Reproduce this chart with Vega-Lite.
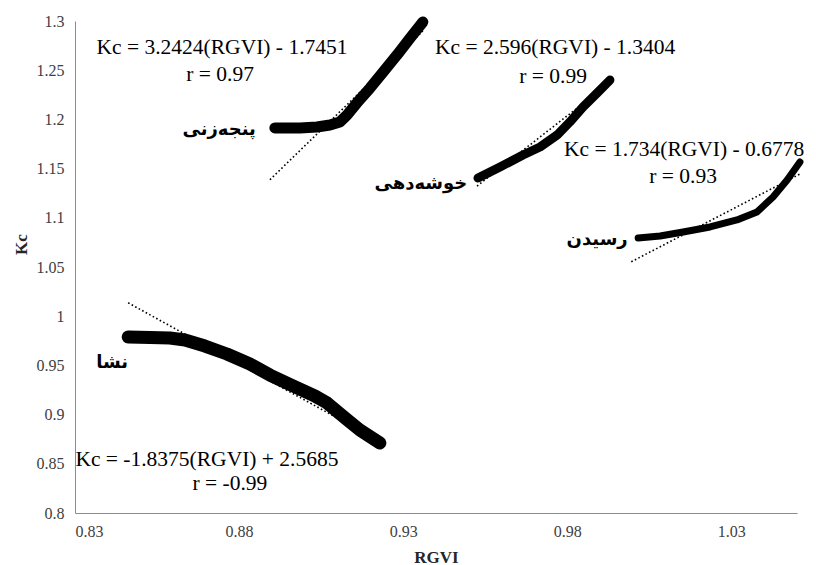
{
  "$schema": "https://vega.github.io/schema/vega-lite/v6.json",
  "width": 722,
  "height": 492,
  "autosize": {"type": "none"},
  "padding": {"left": 75, "top": 21, "right": 19, "bottom": 52},
  "background": "white",
  "config": {"view": {"stroke": null}},
  "datasets": {
    "curves": [
      {"stage": "nasha", "RGVI": 0.8462, "Kc": 0.9789},
      {"stage": "nasha", "RGVI": 0.8529, "Kc": 0.9784},
      {"stage": "nasha", "RGVI": 0.8589, "Kc": 0.9778},
      {"stage": "nasha", "RGVI": 0.8635, "Kc": 0.9758},
      {"stage": "nasha", "RGVI": 0.8696, "Kc": 0.9697},
      {"stage": "nasha", "RGVI": 0.8763, "Kc": 0.9616},
      {"stage": "nasha", "RGVI": 0.8833, "Kc": 0.9514},
      {"stage": "nasha", "RGVI": 0.8894, "Kc": 0.9402},
      {"stage": "nasha", "RGVI": 0.8964, "Kc": 0.9291},
      {"stage": "nasha", "RGVI": 0.9031, "Kc": 0.9189},
      {"stage": "nasha", "RGVI": 0.9068, "Kc": 0.9118},
      {"stage": "nasha", "RGVI": 0.9123, "Kc": 0.8965},
      {"stage": "nasha", "RGVI": 0.9168, "Kc": 0.8843},
      {"stage": "nasha", "RGVI": 0.9229, "Kc": 0.8711},
      {"stage": "panjezani", "RGVI": 0.8909, "Kc": 1.1913},
      {"stage": "panjezani", "RGVI": 0.8986, "Kc": 1.1913},
      {"stage": "panjezani", "RGVI": 0.9037, "Kc": 1.1923},
      {"stage": "panjezani", "RGVI": 0.9077, "Kc": 1.1943},
      {"stage": "panjezani", "RGVI": 0.9107, "Kc": 1.1974},
      {"stage": "panjezani", "RGVI": 0.9129, "Kc": 1.2045},
      {"stage": "panjezani", "RGVI": 0.9159, "Kc": 1.2167},
      {"stage": "panjezani", "RGVI": 0.9199, "Kc": 1.2319},
      {"stage": "panjezani", "RGVI": 0.9239, "Kc": 1.2482},
      {"stage": "panjezani", "RGVI": 0.9281, "Kc": 1.2654},
      {"stage": "panjezani", "RGVI": 0.9321, "Kc": 1.2827},
      {"stage": "panjezani", "RGVI": 0.9360, "Kc": 1.2990},
      {"stage": "khushedehi", "RGVI": 0.9528, "Kc": 1.1404},
      {"stage": "khushedehi", "RGVI": 0.9595, "Kc": 1.1516},
      {"stage": "khushedehi", "RGVI": 0.9665, "Kc": 1.1638},
      {"stage": "khushedehi", "RGVI": 0.9717, "Kc": 1.1720},
      {"stage": "khushedehi", "RGVI": 0.9769, "Kc": 1.1841},
      {"stage": "khushedehi", "RGVI": 0.9808, "Kc": 1.1974},
      {"stage": "khushedehi", "RGVI": 0.9848, "Kc": 1.2126},
      {"stage": "khushedehi", "RGVI": 0.9891, "Kc": 1.2268},
      {"stage": "khushedehi", "RGVI": 0.9930, "Kc": 1.2400},
      {"stage": "residan", "RGVI": 1.0016, "Kc": 1.0795},
      {"stage": "residan", "RGVI": 1.0083, "Kc": 1.0815},
      {"stage": "residan", "RGVI": 1.0153, "Kc": 1.0856},
      {"stage": "residan", "RGVI": 1.0235, "Kc": 1.0907},
      {"stage": "residan", "RGVI": 1.0317, "Kc": 1.0978},
      {"stage": "residan", "RGVI": 1.0378, "Kc": 1.1059},
      {"stage": "residan", "RGVI": 1.0427, "Kc": 1.1211},
      {"stage": "residan", "RGVI": 1.0470, "Kc": 1.1384},
      {"stage": "residan", "RGVI": 1.0509, "Kc": 1.1567}
    ],
    "trends": [
      {"stage": "nasha", "RGVI": 0.8462, "Kc": 1.0136},
      {"stage": "nasha", "RGVI": 0.9229, "Kc": 0.8727},
      {"stage": "panjezani", "RGVI": 0.8894, "Kc": 1.1387},
      {"stage": "panjezani", "RGVI": 0.9360, "Kc": 1.2898},
      {"stage": "khushedehi", "RGVI": 0.9525, "Kc": 1.1323},
      {"stage": "khushedehi", "RGVI": 0.9930, "Kc": 1.2374},
      {"stage": "residan", "RGVI": 0.9995, "Kc": 1.0553},
      {"stage": "residan", "RGVI": 1.0509, "Kc": 1.1445}
    ],
    "equations": [
      {"text": "Kc = 3.2424(RGVI) - 1.7451", "RGVI": 0.8748, "Kc": 1.2726},
      {"text": "r = 0.97", "RGVI": 0.8742, "Kc": 1.2451},
      {"text": "Kc = 2.596(RGVI) - 1.3404", "RGVI": 0.9763, "Kc": 1.2726},
      {"text": "r = 0.99", "RGVI": 0.9757, "Kc": 1.2431},
      {"text": "Kc = 1.734(RGVI) - 0.6778", "RGVI": 1.0156, "Kc": 1.1689},
      {"text": "r = 0.93", "RGVI": 1.0153, "Kc": 1.1415},
      {"text": "Kc = -1.8375(RGVI) + 2.5685", "RGVI": 0.8702, "Kc": 0.8538},
      {"text": "r = -0.99", "RGVI": 0.8772, "Kc": 0.8295}
    ],
    "stages": [
      {"text": "پنجه\u200cزنی", "RGVI": 0.8739, "Kc": 1.1892},
      {"text": "خوشه\u200cدهی", "RGVI": 0.9354, "Kc": 1.1343},
      {"text": "رسیدن", "RGVI": 0.9891, "Kc": 1.0774},
      {"text": "نشا", "RGVI": 0.8413, "Kc": 0.9524}
    ]
  },
  "encoding": {
    "x": {
      "field": "RGVI", "type": "quantitative",
      "scale": {"domain": [0.83, 1.05], "nice": false, "zero": false},
      "axis": {
        "title": "RGVI", "values": [0.83, 0.88, 0.93, 0.98, 1.03], "format": ".2f",
        "grid": false, "ticks": false, "domainColor": "#8c8c8c", "domainWidth": 1,
        "labelFont": "Liberation Serif", "labelFontSize": 16, "labelColor": "#404040", "labelPadding": 10,
        "titleFont": "Liberation Serif", "titleFontSize": 17, "titleFontWeight": "bold", "titleColor": "#262626",
        "titleBaseline": "middle", "titleY": 44
      }
    },
    "y": {
      "field": "Kc", "type": "quantitative",
      "scale": {"domain": [0.8, 1.3], "nice": false, "zero": false},
      "axis": {
        "title": "Kc", "values": [0.8, 0.85, 0.9, 0.95, 1, 1.05, 1.1, 1.15, 1.2, 1.25, 1.3], "format": ".3~f",
        "grid": false, "ticks": false, "domainColor": "#8c8c8c", "domainWidth": 1,
        "labelFont": "Liberation Serif", "labelFontSize": 16, "labelColor": "#404040", "labelPadding": 11,
        "titleFont": "Liberation Serif", "titleFontSize": 17, "titleFontWeight": "bold", "titleColor": "#262626",
        "titleAngle": -90, "titleAlign": "center", "titleBaseline": "middle", "titleX": -54, "titleY": 223
      }
    }
  },
  "layer": [
    {
      "data": {"name": "trends"},
      "mark": {"type": "line", "color": "black", "strokeWidth": 1.6, "strokeDash": [1.6, 2.4]},
      "encoding": {"detail": {"field": "stage"}}
    },
    {
      "data": {"name": "curves"},
      "mark": {"type": "line", "color": "black", "strokeCap": "round", "strokeJoin": "round"},
      "encoding": {
        "detail": {"field": "stage"},
        "strokeWidth": {
          "field": "stage", "type": "nominal",
          "scale": {"domain": ["nasha", "panjezani", "khushedehi", "residan"], "range": [13, 7, 8, 9]},
          "legend": null
        }
      }
    },
    {
      "data": {"name": "equations"},
      "mark": {"type": "text", "font": "Liberation Serif", "fontSize": 21.5, "color": "black", "align": "center", "baseline": "middle"},
      "encoding": {"text": {"field": "text"}}
    },
    {
      "data": {"name": "stages"},
      "mark": {"type": "text", "font": "DejaVu Sans", "fontWeight": "bold", "fontSize": 18, "color": "black", "align": "center", "baseline": "middle"},
      "encoding": {"text": {"field": "text"}}
    }
  ]
}
